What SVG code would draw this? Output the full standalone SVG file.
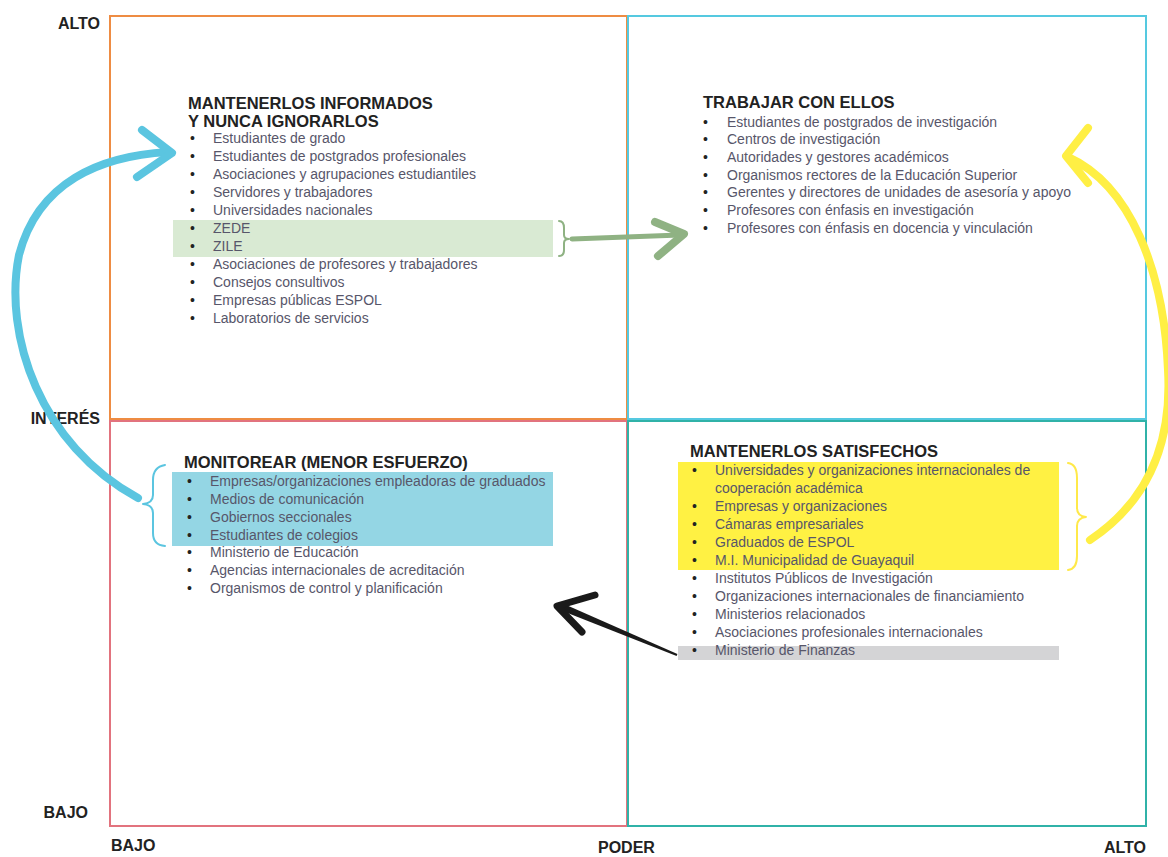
<svg xmlns="http://www.w3.org/2000/svg" width="1168" height="857" viewBox="0 0 1168 857">
<style>
text{font-family:"Liberation Sans",Arial,sans-serif}
.ax{font-size:16px;font-weight:bold;fill:#222}
.hd{font-size:16.5px;font-weight:bold;fill:#222}
.it{font-size:14px;fill:#57566a}
.bu{font-size:14px;fill:#222}
.box{fill:none;stroke-width:2}
.brace{fill:none;stroke-width:2;stroke-linecap:round;stroke-linejoin:round}
.arc{fill:none;stroke-width:8;stroke-linecap:round;stroke-linejoin:round}
</style>
<rect width="1168" height="857" fill="#fff"/>

<g id="axes">
<text class="ax" x="100" y="29" text-anchor="end">ALTO</text>
<text class="ax" x="100" y="424" text-anchor="end">INTERÉS</text>
<text class="ax" x="88" y="818" text-anchor="end">BAJO</text>
<text class="ax" x="111" y="851">BAJO</text>
<text class="ax" x="598" y="853">PODER</text>
<text class="ax" x="1146" y="853" text-anchor="end">ALTO</text>
</g>

<g id="informados">
<rect class="box" x="110" y="16" width="517" height="403" stroke="#EE8C43"/>
<rect x="173" y="220" width="380" height="37" fill="#D9EAD3"/>
<text class="hd" x="188" y="109">MANTENERLOS INFORMADOS</text>
<text class="hd" x="188" y="127">Y NUNCA IGNORARLOS</text>
<g class="bu">
<text x="190" y="143">•</text><text x="190" y="161">•</text><text x="190" y="179">•</text><text x="190" y="197">•</text><text x="190" y="215">•</text><text x="190" y="233">•</text><text x="190" y="251">•</text><text x="190" y="269">•</text><text x="190" y="287">•</text><text x="190" y="305">•</text><text x="190" y="323">•</text>
</g>
<g class="it">
<text x="213" y="143">Estudiantes de grado</text>
<text x="213" y="161">Estudiantes de postgrados profesionales</text>
<text x="213" y="179">Asociaciones y agrupaciones estudiantiles</text>
<text x="213" y="197">Servidores y trabajadores</text>
<text x="213" y="215">Universidades nacionales</text>
<text x="213" y="233">ZEDE</text>
<text x="213" y="251">ZILE</text>
<text x="213" y="269">Asociaciones de profesores y trabajadores</text>
<text x="213" y="287">Consejos consultivos</text>
<text x="213" y="305">Empresas públicas ESPOL</text>
<text x="213" y="323">Laboratorios de servicios</text>
</g>
</g>

<g id="trabajar">
<rect class="box" x="628" y="16" width="518" height="403" stroke="#55C9E0"/>
<text class="hd" x="703" y="108">TRABAJAR CON ELLOS</text>
<g class="bu">
<text x="703" y="126.5">•</text><text x="703" y="144">•</text><text x="703" y="162">•</text><text x="703" y="179.5">•</text><text x="703" y="197">•</text><text x="703" y="215">•</text><text x="703" y="232.5">•</text>
</g>
<g class="it">
<text x="727" y="126.5">Estudiantes de postgrados de investigación</text>
<text x="727" y="144">Centros de investigación</text>
<text x="727" y="162">Autoridades y gestores académicos</text>
<text x="727" y="179.5">Organismos rectores de la Educación Superior</text>
<text x="727" y="197">Gerentes y directores de unidades de asesoría y apoyo</text>
<text x="727" y="215">Profesores con énfasis en investigación</text>
<text x="727" y="232.5">Profesores con énfasis en docencia y vinculación</text>
</g>
</g>

<g id="monitorear">
<rect class="box" x="110" y="421" width="517" height="405" stroke="#E2737E"/>
<rect x="172" y="472" width="381" height="74" fill="#94D6E4"/>
<text class="hd" x="184" y="468">MONITOREAR (MENOR ESFUERZO)</text>
<g class="bu">
<text x="187" y="486">•</text><text x="187" y="504">•</text><text x="187" y="522">•</text><text x="187" y="540">•</text><text x="187" y="557">•</text><text x="187" y="575">•</text><text x="187" y="593">•</text>
</g>
<g class="it">
<text x="210" y="486">Empresas/organizaciones empleadoras de graduados</text>
<text x="210" y="504">Medios de comunicación</text>
<text x="210" y="522">Gobiernos seccionales</text>
<text x="210" y="540">Estudiantes de colegios</text>
<text x="210" y="557">Ministerio de Educación</text>
<text x="210" y="575">Agencias internacionales de acreditación</text>
<text x="210" y="593">Organismos de control y planificación</text>
</g>
</g>

<g id="satisfechos">
<rect class="box" x="628" y="421" width="518" height="405" stroke="#30B2A8"/>
<rect x="678" y="462" width="381" height="108" fill="#FFF143"/>
<rect x="678" y="646" width="381" height="14" fill="#D4D4D6"/>
<text class="hd" x="690" y="457">MANTENERLOS SATISFECHOS</text>
<g class="bu">
<text x="692" y="475">•</text><text x="692" y="510.5">•</text><text x="692" y="528.5">•</text><text x="692" y="546.5">•</text><text x="692" y="564.5">•</text><text x="692" y="582.5">•</text><text x="692" y="600.5">•</text><text x="692" y="618.5">•</text><text x="692" y="636.5">•</text><text x="692" y="654.5">•</text>
</g>
<g class="it">
<text x="715" y="475">Universidades y organizaciones internacionales de</text>
<text x="715" y="492.5">cooperación académica</text>
<text x="715" y="510.5">Empresas y organizaciones</text>
<text x="715" y="528.5">Cámaras empresariales</text>
<text x="715" y="546.5">Graduados de ESPOL</text>
<text x="715" y="564.5">M.I. Municipalidad de Guayaquil</text>
<text x="715" y="582.5">Institutos Públicos de Investigación</text>
<text x="715" y="600.5">Organizaciones internacionales de financiamiento</text>
<text x="715" y="618.5">Ministerios relacionados</text>
<text x="715" y="636.5">Asociaciones profesionales internacionales</text>
<text x="715" y="654.5">Ministerio de Finanzas</text>
</g>
</g>

<g id="connectors">
<!-- green: ZEDE/ZILE to Trabajar -->
<path class="brace" stroke="#8FB283" d="M559,221 Q564,221 564,228 L564,235 Q564,239 569,239 Q564,239 564,243 L564,250 Q564,256 559,256"/>
<path d="M572,239 L680,235" fill="none" stroke="#8FB283" stroke-width="5" stroke-linecap="round"/>
<path d="M655,222 L684,234 L658,256" fill="none" stroke="#8FB283" stroke-width="8" stroke-linecap="round" stroke-linejoin="round"/>
<!-- blue: Monitorear to Informados -->
<path class="brace" stroke="#5BC5E0" d="M165,465 Q153,467 153,480 L153,495 Q153,503 143,504 Q153,505 153,513 L153,533 Q153,545 165,546"/>
<path class="arc" stroke="#5BC5E0" d="M138,498 C40,445 3,335 19,255 C38,182 100,156 168,152"/>
<path class="arc" stroke="#5BC5E0" d="M142,130 L172,153 L137,177"/>
<!-- yellow: Satisfechos to Trabajar -->
<path class="brace" stroke="#FFE94A" d="M1068,463 Q1077,464 1077,478 L1077,508 Q1077,516 1086,517 Q1077,518 1077,526 L1077,556 Q1077,569 1068,570"/>
<path class="arc" stroke="#FFEF44" d="M1090,540 C1150,500 1172,440 1168,370 C1164,270 1130,185 1068,157"/>
<path class="arc" stroke="#FFEF44" d="M1088,128 L1066,156 L1088,183"/>
<!-- black: Ministerio de Finanzas to Monitorear -->
<polygon points="677.4,654.1 676.6,655.9 560.6,610.2 563.4,603.8" fill="#1a1a1a"/>
<path d="M595,595 L557,606 L582,632" fill="none" stroke="#1a1a1a" stroke-width="7" stroke-linecap="round" stroke-linejoin="round"/>
</g>
</svg>
